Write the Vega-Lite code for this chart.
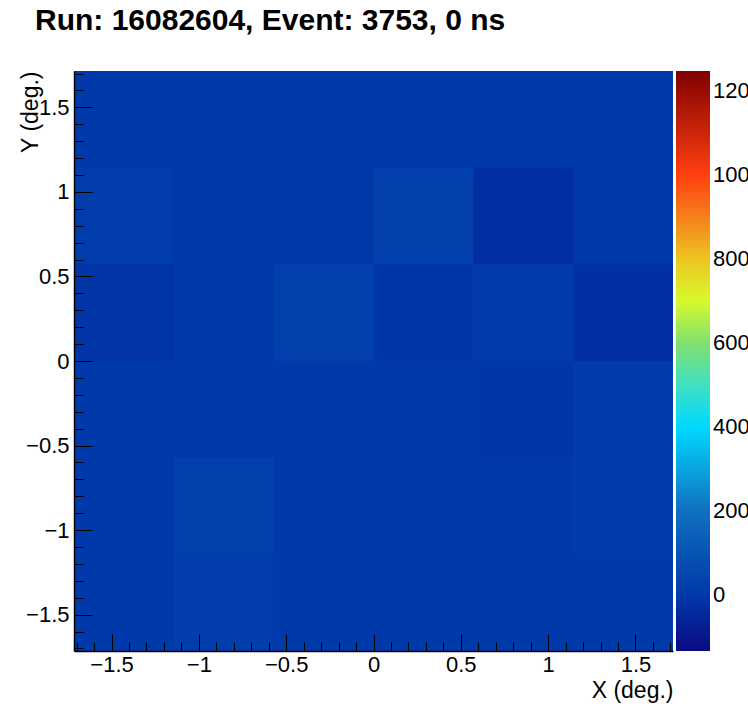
{
  "$schema": "https://vega.github.io/schema/vega-lite/v6.json",
  "width": 599,
  "height": 580,
  "autosize": "none",
  "padding": {"left": 74, "top": 71, "right": 75, "bottom": 73},
  "background": "white",
  "config": {"view": {"stroke": null, "fill": "#0039a8"}, "font": "Liberation Sans"},
  "title": {
    "text": "Run: 16082604, Event: 3753, 0 ns",
    "anchor": "start",
    "frame": "group",
    "dx": -39,
    "offset": 27,
    "fontSize": 30,
    "fontWeight": "bold",
    "color": "black",
    "font": "Liberation Sans"
  },
  "data": {
    "values": [
      {"x0": -1.715, "x1": -1.1433, "y0": 1.1433, "y1": 1.715, "v": 5},
      {"x0": -1.1433, "x1": -0.5717, "y0": 1.1433, "y1": 1.715, "v": 5},
      {"x0": -0.5717, "x1": 0, "y0": 1.1433, "y1": 1.715, "v": 5},
      {"x0": 0, "x1": 0.5717, "y0": 1.1433, "y1": 1.715, "v": 5},
      {"x0": 0.5717, "x1": 1.1433, "y0": 1.1433, "y1": 1.715, "v": 5},
      {"x0": 1.1433, "x1": 1.715, "y0": 1.1433, "y1": 1.715, "v": 5},
      {"x0": -1.715, "x1": -1.1433, "y0": 0.5717, "y1": 1.1433, "v": 22},
      {"x0": -1.1433, "x1": -0.5717, "y0": 0.5717, "y1": 1.1433, "v": 5},
      {"x0": -0.5717, "x1": 0, "y0": 0.5717, "y1": 1.1433, "v": 5},
      {"x0": 0, "x1": 0.5717, "y0": 0.5717, "y1": 1.1433, "v": 35},
      {"x0": 0.5717, "x1": 1.1433, "y0": 0.5717, "y1": 1.1433, "v": -22},
      {"x0": 1.1433, "x1": 1.715, "y0": 0.5717, "y1": 1.1433, "v": 5},
      {"x0": -1.715, "x1": -1.1433, "y0": 0, "y1": 0.5717, "v": -8},
      {"x0": -1.1433, "x1": -0.5717, "y0": 0, "y1": 0.5717, "v": 5},
      {"x0": -0.5717, "x1": 0, "y0": 0, "y1": 0.5717, "v": 30},
      {"x0": 0, "x1": 0.5717, "y0": 0, "y1": 0.5717, "v": -5},
      {"x0": 0.5717, "x1": 1.1433, "y0": 0, "y1": 0.5717, "v": 10},
      {"x0": 1.1433, "x1": 1.715, "y0": 0, "y1": 0.5717, "v": -22},
      {"x0": -1.715, "x1": -1.1433, "y0": -0.5717, "y1": 0, "v": 5},
      {"x0": -1.1433, "x1": -0.5717, "y0": -0.5717, "y1": 0, "v": 5},
      {"x0": -0.5717, "x1": 0, "y0": -0.5717, "y1": 0, "v": 5},
      {"x0": 0, "x1": 0.5717, "y0": -0.5717, "y1": 0, "v": 5},
      {"x0": 0.5717, "x1": 1.1433, "y0": -0.5717, "y1": 0, "v": -5},
      {"x0": 1.1433, "x1": 1.715, "y0": -0.5717, "y1": 0, "v": 18},
      {"x0": -1.715, "x1": -1.1433, "y0": -1.1433, "y1": -0.5717, "v": 5},
      {"x0": -1.1433, "x1": -0.5717, "y0": -1.1433, "y1": -0.5717, "v": 30},
      {"x0": -0.5717, "x1": 0, "y0": -1.1433, "y1": -0.5717, "v": 5},
      {"x0": 0, "x1": 0.5717, "y0": -1.1433, "y1": -0.5717, "v": 5},
      {"x0": 0.5717, "x1": 1.1433, "y0": -1.1433, "y1": -0.5717, "v": 5},
      {"x0": 1.1433, "x1": 1.715, "y0": -1.1433, "y1": -0.5717, "v": 18},
      {"x0": -1.715, "x1": -1.1433, "y0": -1.715, "y1": -1.1433, "v": 5},
      {"x0": -1.1433, "x1": -0.5717, "y0": -1.715, "y1": -1.1433, "v": 22},
      {"x0": -0.5717, "x1": 0, "y0": -1.715, "y1": -1.1433, "v": 5},
      {"x0": 0, "x1": 0.5717, "y0": -1.715, "y1": -1.1433, "v": 5},
      {"x0": 0.5717, "x1": 1.1433, "y0": -1.715, "y1": -1.1433, "v": 5},
      {"x0": 1.1433, "x1": 1.715, "y0": -1.715, "y1": -1.1433, "v": 5}
    ]
  },
  "mark": {"type": "rect", "strokeWidth": 0},
  "encoding": {
    "x": {
      "field": "x0",
      "type": "quantitative",
      "scale": {"domain": [-1.715, 1.715], "nice": false, "zero": false},
      "axis": {
        "zindex": 1,
        "title": "X (deg.)",
        "titleFontSize": 23,
        "titleFontWeight": "normal",
        "titleColor": "black",
        "titleAnchor": "end",
        "titleAlign": "right",
        "titleX": 599,
        "titleY": 46,
        "titleBaseline": "alphabetic",
        "values": [-1.7, -1.6, -1.5, -1.4, -1.3, -1.2, -1.1, -1.0, -0.9, -0.8, -0.7, -0.6, -0.5, -0.4, -0.3, -0.2, -0.1, 0, 0.1, 0.2, 0.3, 0.4, 0.5, 0.6, 0.7, 0.8, 0.9, 1.0, 1.1, 1.2, 1.3, 1.4, 1.5, 1.6, 1.7],
        "format": "~g",
        "labelExpr": "abs(round(datum.value*10)) % 5 == 0 ? datum.label : ''",
        "labelFontSize": 22,
        "labelColor": "black",
        "labelPadding": 20,
        "labelOverlap": false,
        "labelFlush": false,
        "labelBound": false,
        "grid": false,
        "domainColor": "black",
        "domainWidth": 1.5,
        "tickColor": "black",
        "tickWidth": 1,
        "tickSize": {"condition": {"test": "abs(round(datum.value*10)) % 5 == 0", "value": -17}, "value": -9}
      }
    },
    "x2": {"field": "x1"},
    "y": {
      "field": "y0",
      "type": "quantitative",
      "scale": {"domain": [-1.715, 1.715], "nice": false, "zero": false},
      "axis": {
        "zindex": 1,
        "title": "Y (deg.)",
        "titleFontSize": 23,
        "titleFontWeight": "normal",
        "titleColor": "black",
        "titleAnchor": "end",
        "titleAngle": -90,
        "titleAlign": "right",
        "titleX": -37,
        "titleY": 0,
        "titleBaseline": "alphabetic",
        "values": [-1.7, -1.6, -1.5, -1.4, -1.3, -1.2, -1.1, -1.0, -0.9, -0.8, -0.7, -0.6, -0.5, -0.4, -0.3, -0.2, -0.1, 0, 0.1, 0.2, 0.3, 0.4, 0.5, 0.6, 0.7, 0.8, 0.9, 1.0, 1.1, 1.2, 1.3, 1.4, 1.5, 1.6, 1.7],
        "format": "~g",
        "labelExpr": "abs(round(datum.value*10)) % 5 == 0 ? datum.label : ''",
        "labelFontSize": 22,
        "labelColor": "black",
        "labelPadding": 23,
        "labelOverlap": false,
        "labelFlush": false,
        "labelBound": false,
        "grid": false,
        "domainColor": "black",
        "domainWidth": 1.5,
        "tickColor": "black",
        "tickWidth": 1,
        "tickSize": {"condition": {"test": "abs(round(datum.value*10)) % 5 == 0", "value": -18}, "value": -9}
      }
    },
    "y2": {"field": "y1"},
    "color": {
      "field": "v",
      "type": "quantitative",
      "scale": {
        "domain": [-133, 0, 200, 400, 500, 600, 720, 850, 1000, 1248],
        "range": ["#0a0a82", "#0038a8", "#1070c0", "#00d8ff", "#40e0c0", "#80e070", "#e8ff20", "#f0a020", "#ff4010", "#800000"],
        "interpolate": "rgb"
      },
      "legend": {
        "title": null,
        "orient": "none",
        "legendX": 602,
        "legendY": 0,
        "direction": "vertical",
        "gradientLength": 580,
        "gradientThickness": 34,
        "gradientStrokeWidth": 0,
        "values": [0, 200, 400, 600, 800, 1000, 1200],
        "format": "d",
        "labelFontSize": 22,
        "labelColor": "black",
        "labelOffset": 3,
        "labelLimit": 200,
        "labelOverlap": false
      }
    }
  }
}
